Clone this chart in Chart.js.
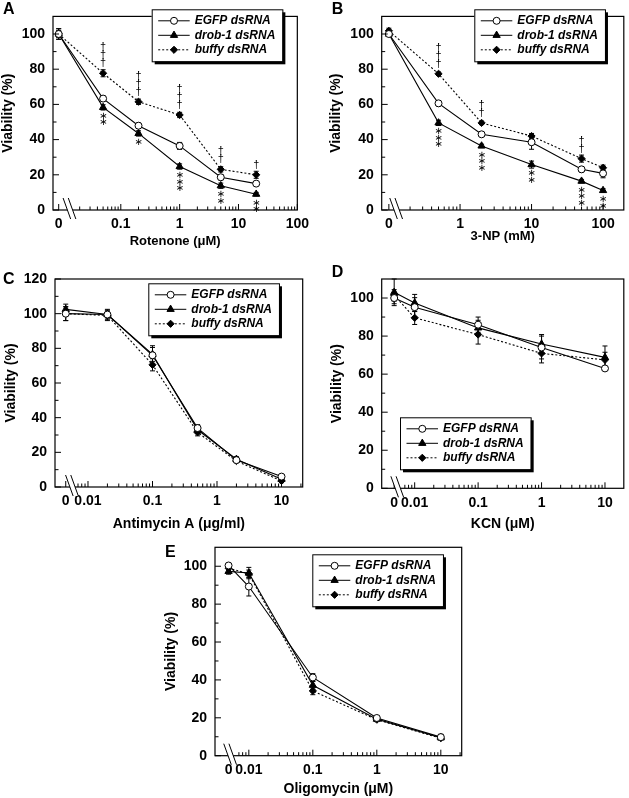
<!DOCTYPE html>
<html>
<head>
<meta charset="utf-8">
<script src="https://cdn.jsdelivr.net/npm/chart.js@4.4.1/dist/chart.umd.min.js"></script>
<style>
  html, body { margin: 0; padding: 0; background: #fff; }
  body { width: 629px; height: 798px; position: relative; overflow: hidden; }
  canvas { position: absolute; }
</style>
</head>
<body>
<canvas id="panelA" style="left:0px;top:0px" width="315" height="255"></canvas>
<canvas id="panelB" style="left:315px;top:0px" width="314" height="255"></canvas>
<canvas id="panelC" style="left:0px;top:255px" width="315" height="280"></canvas>
<canvas id="panelD" style="left:315px;top:255px" width="314" height="280"></canvas>
<canvas id="panelE" style="left:150px;top:520px" width="330" height="278"></canvas>
<script>
const FONT = "'Liberation Sans', Arial, Helvetica, sans-serif";
const seriesNames = ['EGFP dsRNA', 'drob-1 dsRNA', 'buffy dsRNA'];

// A: rotenone (uM)
const aConc = [0, 0.05, 0.2, 1, 5, 20];
const aEgfp = [100, 63.3, 47.9, 36.4, 18.6, 15];
const aDrob = [100, 58.3, 43.5, 24.7, 13.8, 9];
const aBuffy = [100, 77.7, 61.5, 54, 23.1, 20];
const aEgfpErr = [3, 1.5, 1.5, 2, 1.5, 1];
const aDrobErr = [3, 1.5, 1.5, 1.5, 1.5, 1];
const aBuffyErr = [2, 2, 1.5, 1.5, 1.5, 2];
const aStars = [0, 2, 1, 3, 2, 2];
const aDaggers = [0, 3, 3, 3, 2, 1];
const aXTicks = [0, 0.1, 1, 10, 100];
const aXLabels = ['0', '0.1', '1', '10', '100'];

// B: 3-NP (mM)
const bConc = [0, 0.5, 2, 10, 50, 100];
const bEgfp = [100, 60.6, 43, 38.5, 23.1, 20.8];
const bDrob = [100, 49.5, 36.4, 25.8, 16.4, 11.1];
const bBuffy = [101.8, 77.4, 49.5, 42, 29.2, 24];
const bEgfpErr = [1, 1.5, 1, 4, 1.5, 2.5];
const bDrobErr = [1, 1.5, 1, 2, 1, 1];
const bBuffyErr = [1.5, 1, 1, 1.5, 2, 1.5];
const bStars = [0, 3, 3, 2, 3, 2];
const bDaggers = [0, 3, 2, 0, 2, 0];
const bXTicks = [0, 1, 10, 100];
const bXLabels = ['0', '1', '10', '100'];

// C: antimycin A (ug/ml)
const cConc = [0, 0.02, 0.1, 0.5, 2, 10];
const cEgfp = [100, 99.5, 76, 34, 15.5, 6];
const cDrob = [102.5, 99.5, 76.5, 33, 16, 4.5];
const cBuffy = [100, 99, 70.5, 31.5, 15, 3.5];
const cEgfpErr = [4, 3, 5.5, 2, 1, 1];
const cDrobErr = [3, 2, 4, 2, 1.5, 1];
const cBuffyErr = [4, 3, 3.5, 2, 1, 1];

// D: KCN (uM)
const dConc = [0, 0.01, 0.1, 1, 10];
const dEgfp = [100, 95.2, 86, 74, 63];
const dDrob = [103, 97.4, 84.3, 75.8, 68.8];
const dBuffy = [101.4, 89.6, 80.8, 70.9, 67.5];
const dEgfpErr = [3, 5, 4, 6, 1];
const dDrobErr = [7, 4.5, 4, 5, 6];
const dBuffyErr = [3, 3.5, 5, 5, 4];

// E: oligomycin (uM)
const eConc = [0, 0.01, 0.1, 1, 10];
const eEgfp = [100.4, 89.3, 41.3, 19.9, 9.8];
const eDrob = [97.3, 96.4, 37.2, 19.3, 9.5];
const eBuffy = [99, 96, 34.2, 19, 9.2];
const eEgfpErr = [1, 5, 2, 1, 1.5];
const eDrobErr = [1.5, 3, 2, 1, 1];
const eBuffyErr = [1, 2, 2, 1, 1];

const smallXTicks = [0, 0.01, 0.1, 1, 10];
const smallXLabels = ['0', '0.01', '0.1', '1', '10'];
const yTicks100 = [0, 20, 40, 60, 80, 100];
const yTicks120 = [0, 20, 40, 60, 80, 100, 120];

const seriesStyles = [
  { pointStyle: 'circle', radius: 3.5, fill: '#fff', dash: [] },
  { pointStyle: 'triangle', radius: 4.2, fill: '#000', dash: [] },
  { pointStyle: 'rectRot', radius: 3.6, fill: '#000', dash: [2, 2] }
];

function line(ctx, x1, y1, x2, y2) {
  ctx.beginPath();
  ctx.moveTo(x1, y1);
  ctx.lineTo(x2, y2);
  ctx.stroke();
}

function makePanel(id, p) {
  const toX = c => (c === 0 ? p.zeroAt : c);
  const values = [p.egfp, p.drob, p.buffy];
  const errors = [p.egfpErr, p.drobErr, p.buffyErr];

  const datasets = values.map((vals, k) => ({
    label: seriesNames[k],
    data: p.conc.map((c, i) => ({ x: toX(c), y: vals[i] })),
    borderColor: '#000',
    borderWidth: 1.1,
    borderDash: seriesStyles[k].dash,
    pointStyle: seriesStyles[k].pointStyle,
    pointRadius: seriesStyles[k].radius,
    pointBackgroundColor: seriesStyles[k].fill,
    pointBorderColor: '#000',
    pointBorderWidth: 1,
    tension: 0,
    fill: false
  }));

  const figurePlugin = {
    id: 'figure',
    beforeDatasetsDraw(chart) {
      const ctx = chart.ctx, xs = chart.scales.x, ys = chart.scales.y;
      ctx.save();
      ctx.strokeStyle = '#000';
      ctx.lineWidth = 1;
      values.forEach((vals, k) => {
        p.conc.forEach((c, i) => {
          const e = errors[k][i];
          if (!e) return;
          const x = xs.getPixelForValue(toX(c));
          const y1 = ys.getPixelForValue(vals[i] - e);
          const y2 = ys.getPixelForValue(vals[i] + e);
          line(ctx, x, y1, x, y2);
          line(ctx, x - 2.5, y1, x + 2.5, y1);
          line(ctx, x - 2.5, y2, x + 2.5, y2);
        });
      });
      ctx.restore();
    },
    afterDatasetsDraw(chart) {
      const ctx = chart.ctx, xs = chart.scales.x, ys = chart.scales.y;
      const { left, right, top, bottom } = chart.chartArea;
      ctx.save();
      ctx.strokeStyle = '#000';
      ctx.fillStyle = '#000';

      // frame
      ctx.lineWidth = 1.2;
      ctx.strokeRect(left, top, right - left, bottom - top);

      // inward ticks
      ctx.lineWidth = 1;
      p.yTicks.forEach(v => {
        const y = ys.getPixelForValue(v);
        line(ctx, left, y, left + 6, y);
      });
      for (let v = 10; v < p.yMax; v += 20) {
        const y = ys.getPixelForValue(v);
        line(ctx, left, y, left + 3.5, y);
      }
      p.xTicks.forEach(v => {
        const x = xs.getPixelForValue(toX(v));
        line(ctx, x, bottom, x, bottom - 6);
      });
      const d0 = Math.floor(Math.log10(xs.min)), d1 = Math.ceil(Math.log10(xs.max));
      for (let d = d0; d <= d1; d++) {
        for (let m = 2; m <= 9; m++) {
          const v = m * Math.pow(10, d);
          if (v < p.minorFrom || v > xs.max) continue;
          const x = xs.getPixelForValue(v);
          line(ctx, x, bottom, x, bottom - 3.5);
        }
      }

      // axis break
      const bx = xs.getPixelForValue(p.breakAt);
      const up = 12, down = 9, slant = 0.36, gap = 2.6;
      ctx.fillStyle = '#fff';
      ctx.beginPath();
      ctx.moveTo(bx - gap - slant * up, bottom - up);
      ctx.lineTo(bx + gap - slant * up, bottom - up);
      ctx.lineTo(bx + gap + slant * down, bottom + down);
      ctx.lineTo(bx - gap + slant * down, bottom + down);
      ctx.closePath();
      ctx.fill();
      ctx.fillStyle = '#000';
      [-gap, gap].forEach(g => line(ctx, bx + g - slant * up, bottom - up, bx + g + slant * down, bottom + down));

      // significance marks: asterisks under drob-1, daggers over buffy
      ctx.textAlign = 'center';
      ctx.textBaseline = 'middle';
      p.conc.forEach((c, i) => {
        const x = xs.getPixelForValue(toX(c));
        const nStars = p.stars ? p.stars[i] : 0;
        const nDaggers = p.daggers ? p.daggers[i] : 0;
        ctx.font = "10px 'DejaVu Sans'";
        for (let k = 0; k < nStars; k++) {
          ctx.fillText('\u2217', x, ys.getPixelForValue(p.drob[i]) + 9 + k * 6.5);
        }
        ctx.font = `11px ${FONT}`;
        for (let k = 0; k < nDaggers; k++) {
          ctx.fillText('\u2020', x, ys.getPixelForValue(p.buffy[i]) - 10 - k * 8);
        }
      });

      // legend box with drop shadow
      const lx = p.legend.x, ly = p.legend.y;
      ctx.font = `italic bold 12px ${FONT}`;
      const textW = Math.max(...seriesNames.map(n => ctx.measureText(n).width));
      const w = 43 + textW + 7, h = 52;
      ctx.fillStyle = '#000';
      ctx.fillRect(lx + 3, ly + 3, w, h);
      ctx.fillStyle = '#fff';
      ctx.fillRect(lx, ly, w, h);
      ctx.lineWidth = 1;
      ctx.strokeRect(lx + 0.5, ly + 0.5, w, h);
      seriesNames.forEach((name, k) => {
        const ry = ly + 11.5 + k * 14.5;
        const st = seriesStyles[k];
        ctx.setLineDash(st.dash);
        line(ctx, lx + 6.5, ry, lx + 38, ry);
        ctx.setLineDash([]);
        ctx.fillStyle = st.fill;
        Chart.helpers.drawPoint(ctx, { pointStyle: st.pointStyle, rotation: 0, radius: st.radius, borderWidth: 1 }, lx + 22.3, ry);
        ctx.fillStyle = '#000';
        ctx.textAlign = 'left';
        ctx.fillText(name, lx + 43, ry);
      });

      // panel letter
      ctx.font = `bold 16px ${FONT}`;
      ctx.textAlign = 'left';
      ctx.fillText(p.letter.text, p.letter.x, p.letter.y);
      ctx.restore();
    }
  };

  const canvas = document.getElementById(id);
  const cw = canvas.width, ch = canvas.height;
  const f = p.frame;

  new Chart(canvas, {
    type: 'line',
    data: { datasets },
    plugins: [figurePlugin],
    options: {
      responsive: false,
      animation: false,
      events: [],
      layout: { padding: { left: 0, top: f.T, right: cw - f.R, bottom: 0 } },
      plugins: { legend: { display: false }, tooltip: { enabled: false } },
      scales: {
        x: {
          type: 'logarithmic',
          min: p.xMin,
          max: p.xMax,
          bounds: 'data',
          afterBuildTicks: s => { s.ticks = p.xTicks.map(v => ({ value: toX(v) })); },
          afterFit: s => { s.height = ch - f.B; },
          grid: { display: false, drawTicks: false },
          border: { display: false },
          ticks: {
            autoSkip: false,
            maxRotation: 0,
            padding: 6,
            color: '#000',
            font: { family: FONT, size: 14, weight: 'bold' },
            callback: (v, i) => p.xLabels[i]
          },
          title: {
            display: true,
            text: p.xTitle,
            color: '#000',
            font: { family: FONT, size: p.xTitleSize, weight: 'bold' },
            padding: { top: 0, bottom: p.xTitlePad }
          }
        },
        y: {
          min: 0,
          max: p.yMax,
          afterBuildTicks: s => { s.ticks = p.yTicks.map(v => ({ value: v })); },
          afterFit: s => { s.width = f.L; },
          grid: { display: false, drawTicks: false },
          border: { display: false },
          ticks: {
            padding: 8,
            color: '#000',
            font: { family: FONT, size: 14, weight: 'bold' }
          },
          title: {
            display: true,
            text: 'Viability (%)',
            color: '#000',
            font: { family: FONT, size: 14, weight: 'bold' },
            padding: { top: p.yTitlePad, bottom: 0 }
          }
        }
      }
    }
  });
}

makePanel('panelA', {
  conc: aConc, egfp: aEgfp, drob: aDrob, buffy: aBuffy,
  egfpErr: aEgfpErr, drobErr: aDrobErr, buffyErr: aBuffyErr,
  stars: aStars, daggers: aDaggers,
  xTicks: aXTicks, xLabels: aXLabels, yTicks: yTicks100, yMax: 110,
  xMin: 0.00704, xMax: 100, zeroAt: 0.0088, breakAt: 0.0137, minorFrom: 0.018,
  frame: { L: 53, T: 3, R: 298, B: 210 },
  xTitle: 'Rotenone (\u03bcM)', xTitleSize: 13, xTitlePad: 6, yTitlePad: 0,
  legend: { x: 151.7, y: 9.3 }, letter: { text: 'A', x: 3, y: 10 }
});

makePanel('panelB', {
  conc: bConc, egfp: bEgfp, drob: bDrob, buffy: bBuffy,
  egfpErr: bEgfpErr, drobErr: bDrobErr, buffyErr: bBuffyErr,
  stars: bStars, daggers: bDaggers,
  xTicks: bXTicks, xLabels: bXLabels, yTicks: yTicks100, yMax: 110,
  xMin: 0.0802, xMax: 195, zeroAt: 0.101, breakAt: 0.13, minorFrom: 0.18,
  frame: { L: 66.7, T: 3, R: 311.7, B: 210 },
  xTitle: '3-NP (mM)', xTitleSize: 13, xTitlePad: 11, yTitlePad: 12.4,
  legend: { x: 159.3, y: 9.3 }, letter: { text: 'B', x: 16.7, y: 10 }
});

makePanel('panelC', {
  conc: cConc, egfp: cEgfp, drob: cDrob, buffy: cBuffy,
  egfpErr: cEgfpErr, drobErr: cDrobErr, buffyErr: cBuffyErr,
  xTicks: smallXTicks, xLabels: smallXLabels, yTicks: yTicks120, yMax: 120,
  xMin: 0.00308, xMax: 21.3, zeroAt: 0.00452, breakAt: 0.00575, minorFrom: 0.0065,
  frame: { L: 55, T: 24, R: 302.7, B: 232 },
  xTitle: 'Antimycin A (\u03bcg/ml)', xTitleSize: 14, xTitlePad: 2.6, yTitlePad: 2.4,
  legend: { x: 148.3, y: 28.3 }, letter: { text: 'C', x: 3, y: 25 }
});

makePanel('panelD', {
  conc: dConc, egfp: dEgfp, drob: dDrob, buffy: dBuffy,
  egfpErr: dEgfpErr, drobErr: dDrobErr, buffyErr: dBuffyErr,
  xTicks: smallXTicks, xLabels: smallXLabels, yTicks: yTicks100, yMax: 110,
  xMin: 0.00302, xMax: 19.8, zeroAt: 0.00475, breakAt: 0.00542, minorFrom: 0.0065,
  frame: { L: 66.7, T: 24, R: 311.7, B: 233.3 },
  xTitle: 'KCN (\u03bcM)', xTitleSize: 14, xTitlePad: 2.6, yTitlePad: 13.3,
  legend: { x: 85, y: 162.3 }, letter: { text: 'D', x: 16.7, y: 18 }
});

makePanel('panelE', {
  conc: eConc, egfp: eEgfp, drob: eDrob, buffy: eBuffy,
  egfpErr: eEgfpErr, drobErr: eDrobErr, buffyErr: eBuffyErr,
  xTicks: smallXTicks, xLabels: smallXLabels, yTicks: yTicks100, yMax: 110,
  xMin: 0.00296, xMax: 21.2, zeroAt: 0.00482, breakAt: 0.0052, minorFrom: 0.0065,
  frame: { L: 65, T: 27.3, R: 311.7, B: 235.7 },
  xTitle: 'Oligomycin (\u03bcM)', xTitleSize: 14, xTitlePad: 0.6, yTitlePad: 12.4,
  legend: { x: 162.3, y: 34.3 }, letter: { text: 'E', x: 15, y: 33 }
});
</script>
</body>
</html>
